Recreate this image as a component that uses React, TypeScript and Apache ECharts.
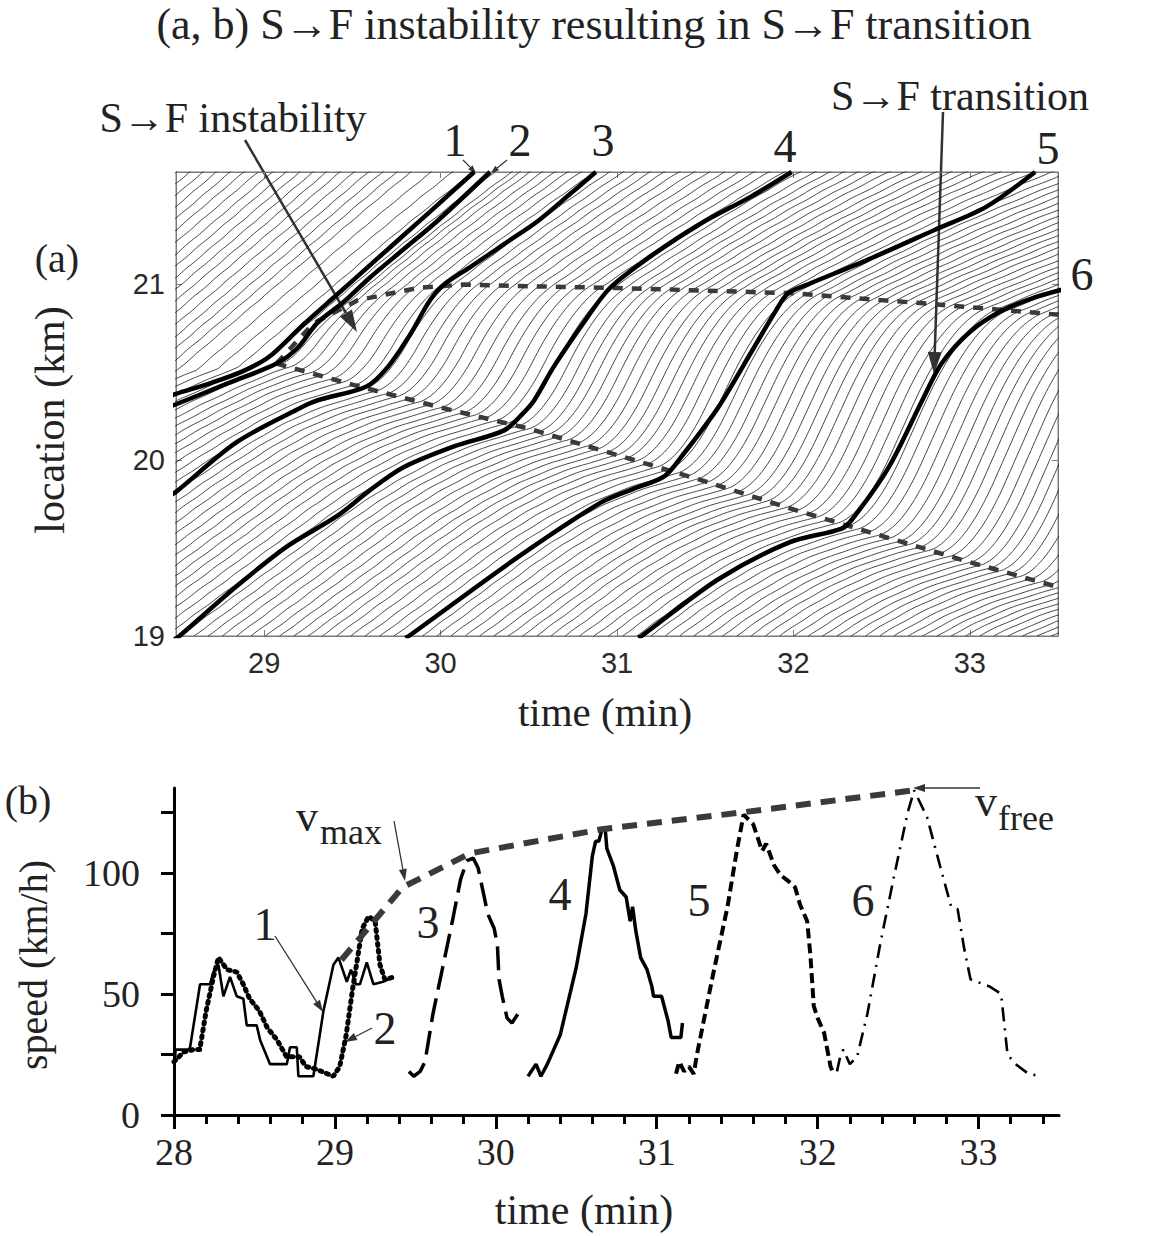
import React, { useEffect, useRef } from "react";
import * as echarts from "echarts";

const SERIF = "'Liberation Serif', 'Times New Roman', serif";
const SANS = "'Liberation Sans', Arial, sans-serif";

// ================= Panel (a): vehicle trajectories =================
const timeTicksA = [29, 30, 31, 32, 33];
const locTicksA = [19, 20, 21];

// dashed fronts
const frontDownT = [24.0, 28.5, 29.07, 29.5, 30.0, 30.5, 31.0, 31.5, 32.0, 32.5, 33.0, 33.6];
const frontDownX = [21.76, 20.5, 20.55, 20.43, 20.3, 20.18, 20.03, 19.88, 19.72, 19.57, 19.42, 19.25];
const frontUpT = [29.07, 29.17, 29.28, 29.53, 29.87, 30.13, 30.5, 31.0, 32.0, 32.77, 33.6];
const frontUpX = [20.55, 20.66, 20.78, 20.91, 20.98, 21.0, 20.99, 20.98, 20.95, 20.89, 20.82];

// speeds (km/min) read from trajectory slopes
const congDist = [0, 0.1, 0.2, 0.35, 0.55, 0.8, 5]; // distance upstream of the front
const congSpeed = [0.27, 0.3, 0.38, 0.5, 0.62, 0.74, 0.76];
const congSpeedPre = [0.4, 0.44, 0.5, 0.58, 0.66, 0.74, 0.76]; // before the instability
const syncT = [24, 29.0, 29.5, 30.4, 31.5, 32.6, 33.6];
const syncSpeed = [0.85, 0.86, 0.86, 0.74, 0.63, 0.49, 0.38];
const accelRate = 5; // km/min^2
const decelRate = 4;
const headway = 0.081; // min between vehicles at 19 km
const crossT0 = 28.52; // vehicle 4 passes 19 km
const vehFirst = -50;
const vehLast = 62;
const waveAmp = 0.1;
const wavePeriod = 0.6;
const waveSpeed = 0.25;

// highlighted vehicles 1..6 (time, location)
const veh1T = [28.45, 28.5, 28.7, 28.88, 29.03, 29.22, 29.41, 29.6, 29.79, 29.98, 30.19];
const veh1X = [20.36, 20.378, 20.44, 20.507, 20.59, 20.77, 20.94, 21.11, 21.28, 21.45, 21.64];
const veh2T = [28.45, 28.504, 28.8, 29.07, 29.19, 29.3, 29.45, 29.6, 29.79, 29.98, 30.28];
const veh2X = [20.3, 20.32, 20.44, 20.55, 20.64, 20.78, 20.9, 21.04, 21.2, 21.36, 21.64];
const veh3T = [28.45, 28.5, 28.84, 29.19, 29.3, 29.58, 29.7, 29.83, 29.94, 30.02, 30.17, 30.36, 30.55, 30.74, 30.88];
const veh3X = [19.79, 19.82, 20.1, 20.29, 20.34, 20.42, 20.53, 20.72, 20.91, 21.0, 21.1, 21.23, 21.36, 21.52, 21.64];
const veh4T = [28.49, 28.52, 28.84, 29.13, 29.41, 29.6, 29.79, 30.08, 30.36, 30.47, 30.53, 30.64, 30.83, 30.96, 31.19, 31.48, 31.76, 31.99];
const veh4X = [18.98, 19.0, 19.28, 19.51, 19.68, 19.83, 19.96, 20.08, 20.17, 20.27, 20.34, 20.53, 20.81, 20.98, 21.16, 21.35, 21.5, 21.64];
const veh5T = [29.8, 29.82, 30.44, 30.91, 31.1, 31.27, 31.38, 31.48, 31.58, 31.77, 31.9, 31.97, 32.08, 32.42, 32.8, 33.09, 33.37];
const veh5X = [18.99, 19.0, 19.45, 19.76, 19.84, 19.91, 20.04, 20.17, 20.31, 20.63, 20.85, 20.95, 21.0, 21.14, 21.31, 21.44, 21.64];
const veh6T = [31.12, 31.14, 31.57, 31.97, 32.27, 32.33, 32.54, 32.73, 32.84, 33.0, 33.18, 33.35, 33.52];
const veh6X = [18.99, 19.0, 19.32, 19.53, 19.61, 19.66, 19.96, 20.34, 20.55, 20.73, 20.85, 20.92, 20.97];

// ================= Panel (b): speeds =================
const timeTicksB = [28, 29, 30, 31, 32, 33];
const minorTicksB = [28.2, 28.4, 28.6, 28.8, 29.2, 29.4, 29.6, 29.8, 30.2, 30.4, 30.6, 30.8, 31.2, 31.4, 31.6, 31.8, 32.2, 32.4, 32.6, 32.8, 33.2, 33.4];
const speedTicksB = [0, 25, 50, 75, 100, 125];
const speedLabelsB = [0, 50, 100];

const sp1T = [28.006, 28.01, 28.09, 28.1, 28.162, 28.224, 28.245, 28.276, 28.307, 28.348, 28.39, 28.431, 28.452, 28.514, 28.535, 28.597, 28.701, 28.721, 28.763, 28.773, 28.866, 28.929, 28.991, 29.022, 29.074, 29.1, 29.13, 29.156, 29.198, 29.239, 29.3, 29.364];
const sp1V = [23, 27, 27, 28, 54, 54, 59, 62, 49, 57, 49, 48, 37, 37, 31, 21, 21, 28, 28, 16, 16, 43, 62, 65, 55, 60, 54, 54, 63, 54, 55, 57];
const sp2T = [28.0, 28.06, 28.12, 28.16, 28.2, 28.245, 28.276, 28.33, 28.39, 28.43, 28.47, 28.53, 28.58, 28.64, 28.7, 28.78, 28.82, 28.88, 28.99, 29.03, 29.07, 29.11, 29.17, 29.21, 29.25, 29.28, 29.31, 29.37];
const sp2V = [22, 26, 27, 27, 43, 57, 65, 60, 59, 54, 48, 43, 36, 31, 24, 24, 20, 19, 16, 20, 33, 52, 77, 82, 80, 62, 56, 57];
const sp3T = [29.46, 29.49, 29.53, 29.56, 29.61, 29.67, 29.73, 29.78, 29.82, 29.86, 29.89, 29.95, 29.99, 30.01, 30.02, 30.04, 30.07, 30.1, 30.15];
const sp3V = [18, 16, 18, 22, 42, 61, 80, 97, 105, 106, 102, 83, 77, 70, 56, 49, 40, 38, 43];
const sp4T = [30.2, 30.25, 30.28, 30.32, 30.4, 30.5, 30.56, 30.6, 30.62, 30.64, 30.66, 30.68, 30.69, 30.73, 30.77, 30.81, 30.835, 30.85, 30.87, 30.9, 30.94, 30.97, 30.98, 31.03, 31.07, 31.09, 31.15, 31.16];
const sp4V = [16, 21, 16, 21, 33, 61, 83, 107, 113, 113, 118, 118, 110, 103, 93, 90, 80, 86, 76, 65, 60, 53, 49, 49, 39, 32, 32, 38];
const sp5T = [31.12, 31.14, 31.17, 31.2, 31.23, 31.25, 31.35, 31.44, 31.5, 31.54, 31.57, 31.6, 31.655, 31.68, 31.73, 31.77, 31.81, 31.86, 31.89, 31.935, 31.955, 31.976, 32.0, 32.04, 32.08, 32.1];
const sp5V = [17, 22, 18, 20, 17, 25, 58, 86, 110, 124, 122, 120, 109, 112, 103, 99, 97, 94, 87, 80, 66, 45, 40, 34, 20, 17];
const sp6T = [32.12, 32.14, 32.16, 32.2, 32.245, 32.31, 32.39, 32.47, 32.56, 32.6, 32.68, 32.76, 32.83, 32.87, 32.91, 32.95, 33.07, 33.14, 33.18, 33.23, 33.31, 33.39];
const sp6V = [18, 24, 27, 21, 24, 42, 71, 97, 125, 134, 123, 103, 86, 85, 69, 56, 53, 50, 25, 21, 17, 16];
const vmaxT = [29.04, 29.42, 29.84, 30.66, 31.54, 32.59];
const vmaxV = [64, 94, 108, 118, 125, 134];

// ================= model helpers =================
function interp(xs: number[], ys: number[], v: number) {
  const n = xs.length;
  if (v <= xs[0]) return ys[0];
  if (v >= xs[n - 1]) return ys[n - 1];
  let i = 1;
  while (xs[i] < v) i++;
  const r = (v - xs[i - 1]) / (xs[i] - xs[i - 1]);
  return ys[i - 1] + r * (ys[i] - ys[i - 1]);
}
function wave(t: number, x: number) {
  return 1 + waveAmp * Math.sin((2 * Math.PI * (t + (x - 19) / waveSpeed)) / wavePeriod);
}
function congAt(t: number, d: number) {
  const w = Math.min(1, Math.max(0, (t - 28.95) / 0.3));
  return (1 - w) * interp(congDist, congSpeedPre, d) + w * interp(congDist, congSpeed, d);
}
function speedAt(t: number, x: number) {
  const L = interp(frontDownT, frontDownX, t);
  const vs = interp(syncT, syncSpeed, t);
  if (t < frontUpT[0]) {
    if (x < L) return congAt(t, L - x) * wave(t, x);
    return vs * wave(t, x);
  }
  const U = interp(frontUpT, frontUpX, t);
  if (x < L) return congAt(t, L - x) * wave(t, x);
  if (x >= U) return vs * wave(t, x);
  const e = x - L;
  const f = U - x;
  const v0 = congSpeed[0];
  const vm = interp([28, ...vmaxT, 33.6], [vmaxV[0], ...vmaxV, 138], t) / 60;
  return Math.min(Math.sqrt(v0 * v0 + 2 * accelRate * e), Math.sqrt(vs * vs + 2 * decelRate * f), vm);
}
function buildTracks() {
  const tracks: number[][][] = [];
  for (let k = vehFirst; k <= vehLast; k++) {
    let t = crossT0 + k * headway;
    let x = 19;
    const pts: number[][] = [];
    const dt = 0.004;
    let step = 0;
    while (t < 33.52 && x < 21.7) {
      if (t >= 28.46 && step % 3 === 0) pts.push([t, x]);
      const v1 = speedAt(t, x);
      const v2 = speedAt(t + dt / 2, x + (v1 * dt) / 2);
      x += v2 * dt;
      t += dt;
      step++;
    }
    if (t >= 28.46) pts.push([t, x]);
    if (pts.length > 1) tracks.push(pts);
  }
  return tracks;
}
const zip = (a: number[], b: number[]) => a.map((v, i) => [v, b[i]]);

function arrow(x1: number, y1: number, x2: number, y2: number, color: string, lw: number, hl: number, hw: number) {
  const ang = Math.atan2(y2 - y1, x2 - x1);
  const bx = x2 - hl * Math.cos(ang);
  const by = y2 - hl * Math.sin(ang);
  const px = (-Math.sin(ang) * hw) / 2;
  const py = (Math.cos(ang) * hw) / 2;
  return [
    { type: "line", shape: { x1, y1, x2: bx, y2: by }, style: { stroke: color, lineWidth: lw } },
    { type: "polygon", shape: { points: [[x2, y2], [bx + px, by + py], [bx - px, by - py]] }, style: { fill: color } },
  ];
}
function txt(x: number, y: number, text: string, size: number, opts: any = {}) {
  return {
    type: "text",
    x,
    y,
    rotation: opts.rotation || 0,
    style: {
      text,
      fontSize: size,
      fontFamily: opts.family || SERIF,
      fill: opts.fill || "#222",
      textAlign: opts.align || "center",
      textVerticalAlign: opts.valign || "middle",
    },
    z: 100,
  };
}

function buildOption() {
  const tracks = buildTracks();
  const series: any[] = [];
  tracks.forEach((pts) =>
    series.push({
      type: "line",
      xAxisIndex: 0,
      yAxisIndex: 0,
      data: pts,
      symbol: "none",
      silent: true,
      lineStyle: { color: "#262626", width: 0.85 },
      z: 2,
    })
  );
  const upFront = zip(frontUpT, frontUpX);
  const downFront = zip(frontDownT, frontDownX).filter((p) => p[0] >= 29.07);
  [upFront, downFront].forEach((d) =>
    series.push({
      type: "line",
      xAxisIndex: 0,
      yAxisIndex: 0,
      data: d,
      symbol: "none",
      silent: true,
      lineStyle: { color: "#3a3a3a", width: 4.5, type: [10, 9] },
      z: 3,
    })
  );
  [
    [veh1T, veh1X],
    [veh2T, veh2X],
    [veh3T, veh3X],
    [veh4T, veh4X],
    [veh5T, veh5X],
    [veh6T, veh6X],
  ].forEach(([a, b]) =>
    series.push({
      type: "line",
      xAxisIndex: 0,
      yAxisIndex: 0,
      data: zip(a, b),
      symbol: "none",
      smooth: 0.3,
      silent: true,
      lineStyle: { color: "#000", width: 4.5 },
      z: 4,
    })
  );

  // panel (b)
  const bStyles: any[] = [
    [sp1T, sp1V, { color: "#000", width: 2.6, type: "solid" }],
    [sp2T, sp2V, { color: "#000", width: 5, type: [2, 5], cap: "round" }],
    [sp3T, sp3V, { color: "#000", width: 3.5, type: [24, 9] }],
    [sp4T, sp4V, { color: "#000", width: 3.5, type: "solid" }],
    [sp5T, sp5V, { color: "#000", width: 4, type: [10, 5] }],
    [sp6T, sp6V, { color: "#000", width: 2.6, type: [14, 7, 2, 7] }],
  ];
  bStyles.forEach(([a, b, ls]) =>
    series.push({
      type: "line",
      xAxisIndex: 2,
      yAxisIndex: 2,
      data: zip(a, b),
      symbol: "none",
      silent: true,
      lineStyle: ls,
      z: 4,
    })
  );
  series.push({
    type: "line",
    xAxisIndex: 2,
    yAxisIndex: 2,
    data: zip(vmaxT, vmaxV),
    symbol: "none",
    silent: true,
    lineStyle: { color: "#3a3a3a", width: 6, type: [15, 10] },
    z: 5,
  });

  const gray = "#7a7a7a";
  const graphic: any[] = [
    txt(594, 24, "(a, b) S\u2192F instability resulting in S\u2192F transition", 44),
    txt(57, 258, "(a)", 40),
    txt(28, 800, "(b)", 40),
    txt(233, 118, "S\u2192F instability", 42),
    txt(960, 96, "S\u2192F transition", 42),
    txt(455, 140, "1", 46),
    txt(520, 140, "2", 46),
    txt(603, 140, "3", 46),
    txt(785, 146, "4", 46),
    txt(1048, 148, "5", 46),
    txt(1082, 274, "6", 46),
    ...arrow(245, 140, 357, 332, "#333", 2.5, 22, 14),
    ...arrow(943, 112, 934, 374, "#333", 2.5, 22, 14),
    ...arrow(463, 160, 476, 173, "#333", 1.2, 8, 6),
    ...arrow(507, 160, 491, 173, "#333", 1.2, 8, 6),
    txt(50, 420, "location (km)", 42, { rotation: Math.PI / 2 }),
    txt(605, 712, "time (min)", 41),
    txt(33, 965, "speed (km/h)", 40, { rotation: Math.PI / 2 }),
    txt(584, 1210, "time (min)", 42),
    txt(307, 838, "v", 44, { valign: "bottom" }),
    txt(320, 850, "max", 36, { align: "left", valign: "bottom" }),
    ...arrow(394, 821, 405, 881, "#333", 1.3, 12, 8),
    txt(986, 823, "v", 44, { valign: "bottom" }),
    txt(998, 836, "free", 36, { align: "left", valign: "bottom" }),
    ...arrow(980, 788, 913, 788, "#333", 1.3, 12, 8),
    txt(265, 924, "1", 46),
    ...arrow(275, 936, 323, 1012, "#333", 1.3, 12, 8),
    txt(385, 1028, "2", 46),
    ...arrow(372, 1028, 345, 1042, "#333", 1.3, 12, 8),
    txt(428, 922, "3", 46),
    txt(560, 894, "4", 46),
    txt(699, 900, "5", 46),
    txt(863, 900, "6", 46),
  ];

  const axA = {
    type: "value",
    gridIndex: 0,
    min: 28.5,
    max: 33.5,
    splitLine: { show: false },
    axisLine: { show: true, onZero: false, lineStyle: { color: gray, width: 1 } },
  };
  const ayA = {
    type: "value",
    gridIndex: 0,
    min: 19,
    max: 21.64,
    splitLine: { show: false },
    axisLine: { show: true, onZero: false, lineStyle: { color: gray, width: 1 } },
  };

  return {
    animation: false,
    backgroundColor: "#fff",
    grid: [
      { left: 176, top: 172, width: 882, height: 464, show: true, borderColor: gray, borderWidth: 1, outerBoundsMode: "none" },
      { left: 174, top: 788, width: 885, height: 327, show: false, outerBoundsMode: "none" },
    ],
    xAxis: [
      {
        ...axA,
        position: "bottom",
        axisTick: { show: true, inside: true, length: 6, customValues: timeTicksA, lineStyle: { color: gray } },
        axisLabel: { show: true, customValues: timeTicksA, fontFamily: SANS, fontSize: 29, color: "#2a2a2a", margin: 12 },
      },
      {
        ...axA,
        position: "top",
        axisTick: { show: true, inside: true, length: 6, customValues: timeTicksA, lineStyle: { color: gray } },
        axisLabel: { show: false },
      },
      {
        type: "value",
        gridIndex: 1,
        min: 28,
        max: 33.5,
        position: "bottom",
        splitLine: { show: false },
        axisLine: { show: true, onZero: false, lineStyle: { color: "#000", width: 3 } },
        axisTick: { show: true, inside: false, length: 14, customValues: timeTicksB, lineStyle: { color: "#000", width: 3 } },
        axisLabel: { show: true, customValues: timeTicksB, fontFamily: SERIF, fontSize: 38, color: "#222", margin: 18 },
      },
      {
        type: "value",
        gridIndex: 1,
        min: 28,
        max: 33.5,
        position: "bottom",
        splitLine: { show: false },
        axisLine: { show: false, onZero: false },
        axisTick: { show: true, inside: false, length: 9, customValues: minorTicksB, lineStyle: { color: "#000", width: 3 } },
        axisLabel: { show: false },
      },
    ],
    yAxis: [
      {
        ...ayA,
        position: "left",
        axisTick: { show: true, inside: true, length: 6, customValues: locTicksA, lineStyle: { color: gray } },
        axisLabel: { show: true, customValues: locTicksA, fontFamily: SANS, fontSize: 29, color: "#2a2a2a", margin: 11 },
      },
      {
        ...ayA,
        position: "right",
        axisTick: { show: true, inside: true, length: 6, customValues: locTicksA, lineStyle: { color: gray } },
        axisLabel: { show: false },
      },
      {
        type: "value",
        gridIndex: 1,
        min: 0,
        max: 135,
        position: "left",
        splitLine: { show: false },
        axisLine: { show: true, onZero: false, lineStyle: { color: "#000", width: 3 } },
        axisTick: { show: true, inside: false, length: 13, customValues: speedTicksB, lineStyle: { color: "#000", width: 3 } },
        axisLabel: { show: true, customValues: speedLabelsB, fontFamily: SERIF, fontSize: 38, color: "#222", margin: 34 },
      },
    ],
    series,
    graphic,
  };
}

export default function App() {
  const ref = useRef<HTMLDivElement>(null);
  useEffect(() => {
    const chart = echarts.init(ref.current!, null, { renderer: "svg", width: 1171, height: 1236 });
    chart.setOption(buildOption() as any);
    return () => chart.dispose();
  }, []);
  return (
    <div
      ref={ref}
      style={{ position: "absolute", left: 0, top: 0, width: 1171, height: 1236, background: "#fff" }}
    />
  );
}
